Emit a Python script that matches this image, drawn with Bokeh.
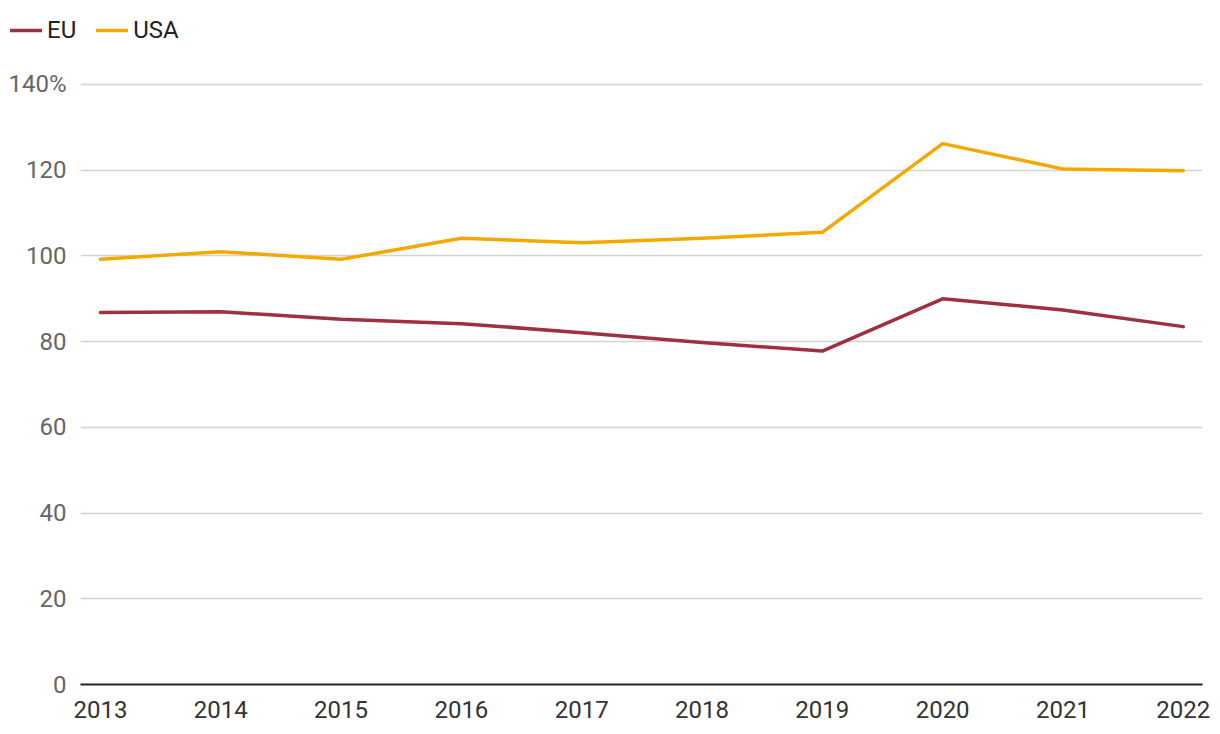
from bokeh.plotting import figure
from bokeh.layouts import column
from bokeh.models import Range1d, FixedTicker, Legend, LegendItem
from bokeh.embed import file_html
from bokeh.resources import INLINE

years = [2013, 2014, 2015, 2016, 2017, 2018, 2019, 2020, 2021, 2022]
eu = [86.8, 87.0, 85.2, 84.2, 82.1, 79.8, 77.8, 90.0, 87.4, 83.5]
usa = [99.2, 101.0, 99.2, 104.1, 103.1, 104.1, 105.5, 126.2, 120.3, 119.9]
y_ticks = [0, 20, 40, 60, 80, 100, 120, 140]
y_labels = {0: "0", 20: "20", 40: "40", 60: "60", 80: "80", 100: "100", 120: "120", 140: "140%"}

FONT = "Roboto"
EU_COLOR = "#9E3040"
USA_COLOR = "#F7A800"
W = 1212

# legend strip
lg = figure(width=W, height=56, output_backend="svg", toolbar_location=None,
            x_range=Range1d(0, 1), y_range=Range1d(0, 1),
            x_axis_type=None, y_axis_type=None,
            min_border_left=0, min_border_right=0, min_border_top=0, min_border_bottom=0)
lg.frame_align = False
lg.outline_line_color = None
lg.xgrid.visible = False
lg.ygrid.visible = False
l_eu = lg.line(years, eu, line_color=EU_COLOR, line_width=3.5, line_cap="round")
l_usa = lg.line(years, usa, line_color=USA_COLOR, line_width=3.5, line_cap="round")
legend = Legend(items=[LegendItem(label="EU", renderers=[l_eu]),
                       LegendItem(label="USA", renderers=[l_usa])],
                location=(10, 12), orientation="horizontal",
                glyph_width=32, glyph_height=20, label_standoff=5, spacing=20,
                padding=0, margin=0, border_line_color=None, background_fill_alpha=0,
                label_text_font=FONT, label_text_font_size="24px", label_text_color="#222222")
lg.add_layout(legend, "center")

p = figure(width=W, height=670, output_backend="svg", toolbar_location=None,
           x_range=Range1d(2012.834, 2022.16), y_range=Range1d(0, 146.53),
           min_border_left=80, min_border_right=10, min_border_top=0, min_border_bottom=42)
p.frame_align = False
p.outline_line_color = None

p.line(years, eu, line_color=EU_COLOR, line_width=3.5, line_join="round", line_cap="round")
p.line(years, usa, line_color=USA_COLOR, line_width=3.5, line_join="round", line_cap="round")

p.xgrid.grid_line_color = None
p.ygrid.grid_line_color = "#d3d3d3"
p.ygrid.grid_line_width = 1.5
p.yaxis.ticker = FixedTicker(ticks=y_ticks)
p.yaxis.major_label_overrides = y_labels
p.yaxis.axis_line_color = None
p.yaxis.major_tick_line_color = None
p.yaxis.minor_tick_line_color = None
p.yaxis.major_label_text_font = FONT
p.yaxis.major_label_text_font_size = "24px"
p.yaxis.major_label_text_color = "#666666"
p.yaxis.major_label_standoff = 8

p.xaxis.ticker = FixedTicker(ticks=years)
p.xaxis.axis_line_color = "#222222"
p.xaxis.axis_line_width = 2
p.xaxis.major_tick_line_color = None
p.xaxis.minor_tick_line_color = None
p.xaxis.major_label_text_font = FONT
p.xaxis.major_label_text_font_size = "24px"
p.xaxis.major_label_text_color = "#333333"
p.xaxis.major_label_standoff = 10

layout = column(lg, p, spacing=0)
open("out.html", "w").write(file_html(layout, INLINE))
